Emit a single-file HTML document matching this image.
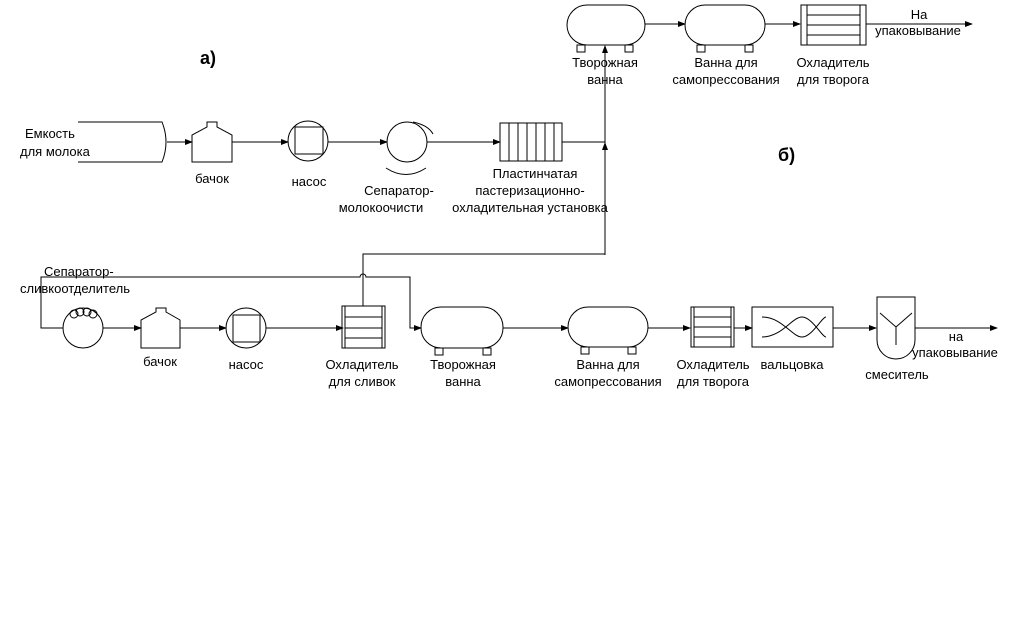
<!DOCTYPE html>
<html><head><meta charset="utf-8"><style>
html,body{margin:0;padding:0;background:#fff}
svg{display:block}
text{font-family:"Liberation Sans",sans-serif;font-size:13px;fill:#000}
.c{text-anchor:middle}
</style></head><body>
<svg width="1010" height="631" viewBox="0 0 1010 631" xmlns="http://www.w3.org/2000/svg">
<defs><marker id="a" markerWidth="8" markerHeight="6" refX="7" refY="3" orient="auto" markerUnits="userSpaceOnUse"><path d="M0,0 L8,3 L0,6 z" fill="#000"/></marker></defs>
<g fill="none" stroke="#000" stroke-width="1">
<!-- Row a -->
<path d="M78,122 H162 Q170,142 162,162 H78"/>
<line x1="167" y1="142" x2="192" y2="142" marker-end="url(#a)"/>
<path d="M192,162 V135 L207,127 V122 H217 V127 L232,135 V162 Z"/>
<line x1="232" y1="142" x2="288" y2="142" marker-end="url(#a)"/>
<circle cx="308" cy="141" r="20"/>
<rect x="295" y="127" width="28" height="27"/>
<line x1="328" y1="142" x2="387" y2="142" marker-end="url(#a)"/>
<circle cx="407" cy="142" r="20"/>
<path d="M413,122 Q428,125 433,134"/>
<path d="M386,168 Q406,181 426,168"/>
<line x1="427" y1="142" x2="500" y2="142" marker-end="url(#a)"/>
<rect x="500" y="123" width="62" height="38"/>
<path d="M509,123V161M518,123V161M527,123V161M536,123V161M545,123V161M554,123V161"/>
<line x1="562" y1="142" x2="605" y2="142"/>
<line x1="605" y1="255" x2="605" y2="143" marker-end="url(#a)"/>
<line x1="605" y1="143" x2="605" y2="46" marker-end="url(#a)"/>
<rect x="567" y="5" width="78" height="40" rx="20"/>
<rect x="577" y="45" width="8" height="7"/><rect x="625" y="45" width="8" height="7"/>
<line x1="645" y1="24" x2="685" y2="24" marker-end="url(#a)"/>
<rect x="685" y="5" width="80" height="40" rx="20"/>
<rect x="697" y="45" width="8" height="7"/><rect x="745" y="45" width="8" height="7"/>
<line x1="765" y1="24" x2="800" y2="24" marker-end="url(#a)"/>
<rect x="801" y="5" width="65" height="40"/>
<path d="M807,5V45M860,5V45M807,15H860M807,25H860M807,35H860"/>
<line x1="866" y1="24" x2="972" y2="24" marker-end="url(#a)"/>
<!-- Row b -->
<circle cx="83" cy="328" r="20"/>
<circle cx="74" cy="314" r="4"/><circle cx="80" cy="312" r="4"/><circle cx="87" cy="312" r="4"/><circle cx="93" cy="314" r="4"/>
<path d="M63,328 H41 V277 H360 A3,3 0 0 1 366,277 H410 V328 H421" marker-end="url(#a)"/>
<line x1="103" y1="328" x2="141" y2="328" marker-end="url(#a)"/>
<path d="M141,348 V320 L156,312 V308 H166 V312 L180,320 V348 Z"/>
<line x1="180" y1="328" x2="226" y2="328" marker-end="url(#a)"/>
<circle cx="246" cy="328" r="20"/>
<rect x="233" y="315" width="27" height="27"/>
<line x1="266" y1="328" x2="343" y2="328" marker-end="url(#a)"/>
<rect x="342" y="306" width="43" height="42"/>
<path d="M345,306V348M382,306V348M345,317H382M345,328H382M345,338H382"/>
<path d="M363,306 V254 H605"/>
<rect x="421" y="307" width="82" height="41" rx="20"/>
<rect x="435" y="348" width="8" height="7"/><rect x="483" y="348" width="8" height="7"/>
<line x1="503" y1="328" x2="568" y2="328" marker-end="url(#a)"/>
<rect x="568" y="307" width="80" height="40" rx="20"/>
<rect x="581" y="347" width="8" height="7"/><rect x="628" y="347" width="8" height="7"/>
<line x1="648" y1="328" x2="690" y2="328" marker-end="url(#a)"/>
<rect x="691" y="307" width="43" height="40"/>
<path d="M694,307V347M731,307V347M694,317H731M694,327H731M694,337H731"/>
<line x1="734" y1="328" x2="752" y2="328" marker-end="url(#a)"/>
<rect x="752" y="307" width="81" height="40"/>
<path d="M762,317 C782,317 792,337 802,337 S822,317 826,317"/>
<path d="M762,337 C782,337 792,317 802,317 S822,337 826,337"/>
<line x1="833" y1="328" x2="876" y2="328" marker-end="url(#a)"/>
<path d="M877,297 V340 A19,19 0 0 0 915,340 V297 Z"/>
<path d="M880,313 L896,327 L912,313 M896,327 V345"/>
<line x1="915" y1="328" x2="997" y2="328" marker-end="url(#a)"/>
</g>
<text x="200" y="64" style="font-size:18px;font-weight:bold">а)</text>
<text x="778" y="161" style="font-size:18px;font-weight:bold">б)</text>
<text x="25" y="138">Емкость</text>
<text x="20" y="156">для молока</text>
<text class="c" x="212" y="183">бачок</text>
<text class="c" x="309" y="186">насос</text>
<text class="c" x="399" y="195">Сепаратор-</text>
<text class="c" x="381" y="212">молокоочисти</text>
<text class="c" x="535" y="178">Пластинчатая</text>
<text class="c" x="530" y="195">пастеризационно-</text>
<text class="c" x="530" y="212">охладительная установка</text>
<text class="c" x="605" y="67">Творожная</text>
<text class="c" x="605" y="84">ванна</text>
<text class="c" x="726" y="67">Ванна для</text>
<text class="c" x="726" y="84">самопрессования</text>
<text class="c" x="833" y="67">Охладитель</text>
<text class="c" x="833" y="84">для творога</text>
<text class="c" x="919" y="19">На</text>
<text class="c" x="918" y="35">упаковывание</text>
<text x="44" y="276">Сепаратор-</text>
<text x="20" y="293">сливкоотделитель</text>
<text class="c" x="160" y="366">бачок</text>
<text class="c" x="246" y="369">насос</text>
<text class="c" x="362" y="369">Охладитель</text>
<text class="c" x="362" y="386">для сливок</text>
<text class="c" x="463" y="369">Творожная</text>
<text class="c" x="463" y="386">ванна</text>
<text class="c" x="608" y="369">Ванна для</text>
<text class="c" x="608" y="386">самопрессования</text>
<text class="c" x="713" y="369">Охладитель</text>
<text class="c" x="713" y="386">для творога</text>
<text class="c" x="792" y="369">вальцовка</text>
<text class="c" x="956" y="341">на</text>
<text class="c" x="955" y="357">упаковывание</text>
<text class="c" x="897" y="379">смеситель</text>
</svg>
</body></html>
